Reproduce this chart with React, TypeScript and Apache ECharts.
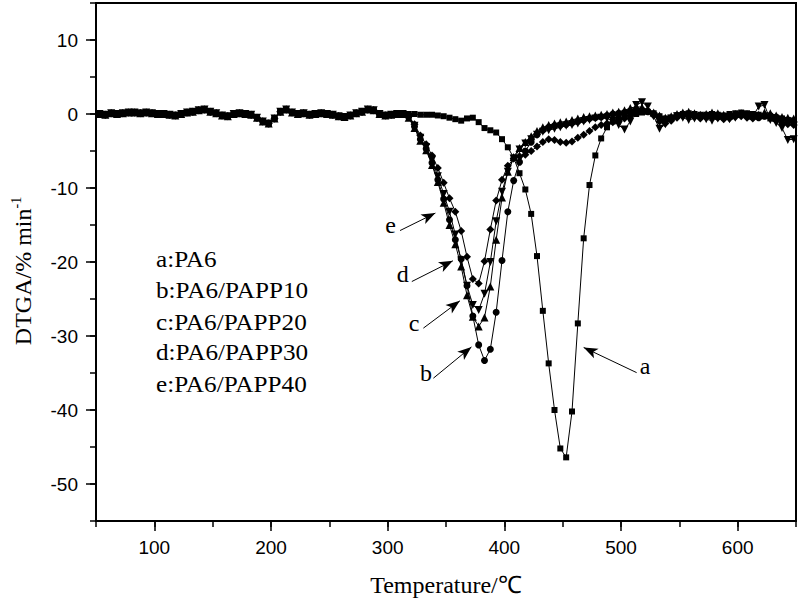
import React, { useEffect, useRef } from "react";
import * as echarts from "echarts";

// Measurement temperatures (°C)
const temps = [
  53, 58, 63, 68, 73, 78, 83, 88, 93, 98,
  103, 108, 113, 118, 123, 128, 133, 138, 143, 148,
  153, 158, 163, 168, 173, 178, 183, 188, 193, 198,
  203, 208, 213, 218, 223, 228, 233, 238, 243, 248,
  253, 258, 263, 268, 273, 278, 283, 288, 293, 298,
  303, 308, 313, 318, 323, 328, 333, 338, 343, 348,
  353, 358, 363, 368, 373, 378, 383, 388, 393, 398,
  403, 408, 413, 418, 423, 428, 433, 438, 443, 448,
  453, 458, 463, 468, 473, 478, 483, 488, 493, 498,
  503, 508, 513, 518, 523, 528, 533, 538, 543, 548,
  553, 558, 563, 568, 573, 578, 583, 588, 593, 598,
  603, 608, 613, 618, 623, 628, 633, 638, 643, 648,
];

// 53–313 °C: all five curves coincide here
const baseline = [
  0.0, -0.1, 0.1, 0.0, 0.1, 0.2, 0.2, 0.1, 0.2, 0.1,
  0.0, 0.0, -0.1, -0.2, 0.0, 0.2, 0.3, 0.5, 0.6, 0.3,
  0.1, -0.2, -0.3, 0.0, 0.1, 0.0, -0.1, -0.5, -1.0, -1.3,
  -0.6, 0.3, 0.6, 0.2, 0.0, 0.1, -0.1, 0.0, 0.1, 0.0,
  -0.1, -0.3, -0.4, -0.2, 0.1, 0.3, 0.6, 0.5, 0.0, -0.2,
  -0.1, 0.0, 0.0,
];

// 318–648 °C
const tailA = [
  0.0, 0.0, -0.1, -0.1, -0.1, -0.2, -0.3, -0.5, -0.7, -0.9,
  -0.6, -0.5, -1.1, -1.9, -2.2, -2.5, -3.4, -4.5, -5.9, -8.0,
  -10.2, -13.5, -19.2, -26.6, -33.7, -40.0, -45.2, -46.4, -40.2, -28.3,
  -16.8, -9.6, -5.6, -3.3, -1.8, -1.0, -0.6, -0.3, -0.2, 0.0,
  0.2, 0.3, 0.1, -0.3, -0.6, -0.5, -0.2, 0.0, 0.1, 0.0,
  -0.1, -0.1, 0.0, -0.1, -0.2, 0.0, 0.1, 0.2, 0.1, 0.0,
  -0.1, -0.3, -0.6, -0.5, -0.6, -0.8, -0.9,
];
const tailB = [
  -0.4, -1.7, -3.4, -4.7, -6.6, -8.9, -11.5, -14.3, -17.0, -19.6,
  -23.2, -27.3, -31.2, -33.3, -31.8, -26.8, -19.8, -13.2, -9.0, -6.5,
  -5.0, -3.8, -2.8, -2.2, -1.8, -1.6, -1.5, -1.4, -1.2, -1.0,
  -0.8, -0.6, -0.5, -0.4, -0.2, 0.0, 0.1, 0.2, 0.4, 0.6,
  0.5, 0.3, 0.0, -0.5, -0.8, -0.6, -0.2, 0.0, -0.1, -0.3,
  -0.4, -0.3, -0.2, -0.4, -0.5, -0.3, -0.1, 0.0, -0.2, -0.4,
  -0.5, -0.3, -0.2, -0.4, -0.7, -0.9, -1.0,
];
const tailC = [
  -0.5, -1.9, -3.6, -4.9, -6.9, -9.2, -12.0, -15.0, -17.6, -20.6,
  -24.5, -27.4, -28.7, -27.5, -23.3, -17.0, -11.3, -7.8, -5.8, -4.6,
  -3.8, -3.0, -2.3, -1.8, -1.5, -1.3, -1.1, -1.0, -0.8, -0.6,
  -0.4, -0.3, -0.2, -0.1, 0.0, 0.2, 0.3, 0.5, 0.8, 1.0,
  0.9, 0.6, 0.2, -0.2, -0.5, -0.3, 0.0, 0.2, 0.3, 0.1,
  -0.1, 0.0, 0.2, 0.1, -0.1, -0.2, 0.0, 0.1, 0.0, -0.2,
  -0.1, 0.2, 0.1, -0.2, -0.4, -0.5, -0.6,
];
const tailD = [
  -0.4, -1.6, -3.2, -4.5, -6.2, -8.4, -10.8, -13.2, -16.3, -19.8,
  -23.2, -25.8, -26.5, -24.3, -20.0, -14.5, -10.5, -7.8, -6.0, -4.8,
  -4.0, -3.4, -2.8, -2.4, -2.2, -2.0, -1.8, -1.6, -1.5, -1.3,
  -1.0, -0.8, -0.6, -0.5, -0.6, -0.9, -1.5, -2.1, -1.0, 1.2,
  1.6, 1.0, -0.3, -2.0, -1.4, -0.6, -0.3, -0.5, -0.8, -0.6,
  -0.4, -0.7, -0.9, -0.6, -0.4, -0.7, -0.5, -0.2, -0.4, -0.3,
  1.0, 1.2, -0.8, -1.2, -1.9, -3.5, -3.4,
];
const tailE = [
  -0.3, -1.4, -2.9, -4.1, -5.6, -7.3, -9.3, -11.4, -13.2, -15.8,
  -19.3, -22.3, -22.9, -19.9, -15.6, -11.7, -8.9, -7.0, -6.0, -5.7,
  -5.5, -5.0, -4.4, -3.8, -3.4, -3.5, -3.8, -3.9, -3.7, -3.2,
  -2.8, -2.3, -1.8, -1.5, -1.3, -1.1, -0.9, -0.6, -0.2, 0.3,
  0.6, 0.4, -0.2, -1.0, -1.3, -0.9, -0.5, -0.3, -0.2, -0.4,
  -0.6, -0.5, -0.4, -0.5, -0.7, -0.6, -0.4, -0.3, -0.5, -0.6,
  -0.4, -0.2, -0.5, -0.9, -1.2, -1.4, -1.5,
];

const seriesNames = ["a:PA6", "b:PA6/PAPP10", "c:PA6/PAPP20", "d:PA6/PAPP30", "e:PA6/PAPP40"];
const curveLetters = ["a", "b", "c", "d", "e"];
const xMajorTicks = [100, 200, 300, 400, 500, 600];
const yMajorTicks = [-50, -40, -30, -20, -10, 0, 10];

const SERIF = "'Liberation Serif', 'Times New Roman', serif";
const SANS = "'Liberation Sans', Arial, sans-serif";

const toPairs = (vals: number[]) => temps.map((t, i) => [t, vals[i]]);

export default function App() {
  const ref = useRef<HTMLDivElement>(null);
  useEffect(() => {
    if (!ref.current) return;
    const chart = echarts.init(ref.current, undefined, { renderer: "svg" });

    const tails = [tailA, tailB, tailC, tailD, tailE];
    const symbols = ["rect", "circle", "triangle", "triangle", "diamond"];
    const sizes = [6, 7, 8, 8, 8];
    const rotates = [0, 0, 0, 180, 0];

    const series: any[] = tails.map((tail, i) => ({
      name: seriesNames[i],
      type: "line",
      xAxisIndex: 0,
      yAxisIndex: 0,
      data: toPairs([...baseline, ...tail]),
      symbol: symbols[i],
      symbolSize: sizes[i],
      symbolRotate: rotates[i],
      showSymbol: true,
      showAllSymbol: true,
      silent: true,
      lineStyle: { color: "#000", width: 1 },
      itemStyle: { color: "#000" },
      z: 3 + i,
    }));

    const head = { symbol: "arrow", symbolSize: [8, 14] };
    series[0].markLine = {
      silent: true,
      symbol: ["none", "arrow"],
      symbolSize: 12,
      lineStyle: { color: "#000", width: 1, type: "solid" },
      itemStyle: { color: "#000" },
      label: { show: false },
      data: [
        [{ coord: [310.6, -15.75] }, { coord: [340.9, -13.39], ...head }],
        [{ coord: [320.7, -22.64] }, { coord: [355.9, -19.84], ...head }],
        [{ coord: [330.6, -28.94] }, { coord: [361.9, -25.25], ...head }],
        [{ coord: [339.2, -35.7] }, { coord: [371.8, -31.48], ...head }],
        [{ coord: [513.4, -34.95] }, { coord: [468.0, -31.55], ...head }],
      ],
    };

    const letterPos = [
      [645, 366],
      [426, 372.7],
      [414, 322.7],
      [402.7, 274],
      [390.7, 225],
    ];
    const legendY = [258.5, 290.2, 322, 352, 383.6];

    const graphic: any[] = [];
    seriesNames.forEach((n, i) => {
      graphic.push({
        type: "text",
        x: 156,
        y: legendY[i],
        scaleX: 1.05,
        silent: true,
        style: { text: n, font: `24px ${SERIF}`, fill: "#000", textAlign: "left", textVerticalAlign: "middle" },
      });
      graphic.push({
        type: "text",
        x: letterPos[i][0],
        y: letterPos[i][1],
        silent: true,
        style: { text: curveLetters[i], font: `24px ${SERIF}`, fill: "#000", textAlign: "center", textVerticalAlign: "middle" },
      });
    });
    graphic.push({
      type: "text",
      x: 22,
      y: 271,
      rotation: Math.PI / 2,
      silent: true,
      style: {
        text: "{m|DTGA/% min}{s|-1}",
        textAlign: "center",
        textVerticalAlign: "middle",
        fill: "#000",
        rich: {
          m: { fontFamily: SERIF, fontSize: 24, lineHeight: 26, fill: "#000", verticalAlign: "bottom" },
          s: { fontFamily: SERIF, fontSize: 14, lineHeight: 26, fill: "#000", verticalAlign: "top" },
        },
      },
    });

    const axisCommon = {
      type: "value",
      splitLine: { show: false },
    };

    chart.setOption({
      animation: false,
      backgroundColor: "#fff",
      grid: {
        left: 96,
        right: 4,
        top: 3,
        bottom: 83,
        show: true,
        borderColor: "#000",
        borderWidth: 2,
        backgroundColor: "transparent",
      },
      xAxis: [
        {
          ...axisCommon,
          min: 50,
          max: 650,
          interval: 50,
          name: "Temperature/℃",
          nameLocation: "middle",
          nameGap: 52,
          nameTextStyle: { fontFamily: SERIF, fontSize: 24, color: "#000" },
          axisLine: { show: true, onZero: false, lineStyle: { color: "#000", width: 2 } },
          axisTick: { show: true, inside: false, length: 6, lineStyle: { color: "#000", width: 1.5 } },
          axisLabel: {
            margin: 17,
            color: "#000",
            fontFamily: SANS,
            fontSize: 19,
            formatter: (v: number) => (xMajorTicks.includes(v) ? String(v) : ""),
          },
        },
        {
          ...axisCommon,
          min: 50,
          max: 650,
          position: "bottom",
          axisLine: { show: false, onZero: false },
          axisTick: { show: true, inside: false, length: 10, customValues: xMajorTicks, lineStyle: { color: "#000", width: 1.5 } },
          axisLabel: { show: false },
        },
      ],
      yAxis: [
        {
          ...axisCommon,
          min: -55,
          max: 15,
          interval: 5,
          axisLine: { show: true, onZero: false, lineStyle: { color: "#000", width: 2 } },
          axisTick: { show: true, inside: false, length: 6, lineStyle: { color: "#000", width: 1.5 } },
          axisLabel: {
            margin: 18,
            color: "#000",
            fontFamily: SANS,
            fontSize: 19,
            formatter: (v: number) => (yMajorTicks.includes(v) ? String(v) : ""),
          },
        },
        {
          ...axisCommon,
          min: -55,
          max: 15,
          position: "left",
          axisLine: { show: false, onZero: false },
          axisTick: { show: true, inside: false, length: 10, customValues: yMajorTicks, lineStyle: { color: "#000", width: 1.5 } },
          axisLabel: { show: false },
        },
      ],
      graphic,
      series,
    });

    return () => chart.dispose();
  }, []);

  return (
    <div
      ref={ref}
      style={{ position: "fixed", left: 0, top: 0, width: 800, height: 604, background: "#fff" }}
    />
  );
}
